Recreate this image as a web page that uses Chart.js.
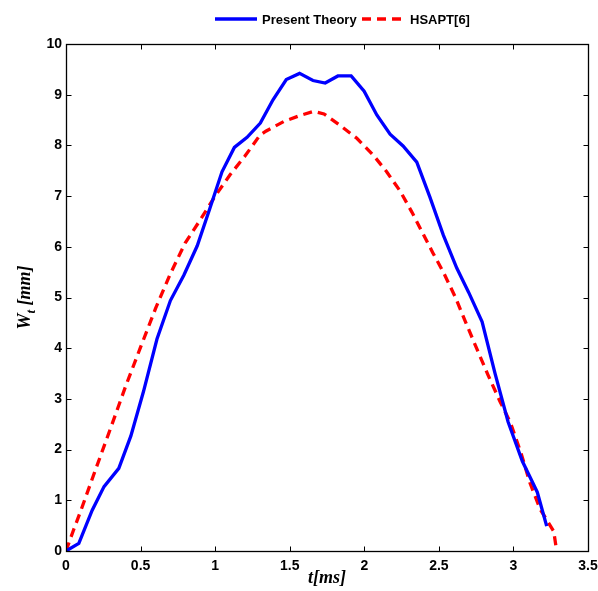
<!DOCTYPE html>
<html lang="en">
  <head>
    <meta charset="UTF-8" />
    <meta name="viewport" content="width=device-width, initial-scale=1.0" />
    <title>Wt vs t | Present Theory vs HSAPT</title>
    <script src="https://cdn.jsdelivr.net/npm/chart.js"></script>
    <style>
      body {
        margin: 0;
        padding: 0;
        background: #fff;
      }
      #wrap {
        width: 598px;
        height: 591px;
      }
    </style>
  </head>
  <body>
    <div id="wrap">
      <canvas id="wtChart" width="598" height="591"></canvas>
    </div>

    <script>
      // series (t in ms, W_t in mm)
      const presentT = [
        0, 0.086, 0.175, 0.255, 0.354, 0.435, 0.52, 0.61, 0.7, 0.79, 0.88,
        0.965, 1.046, 1.129, 1.214, 1.303, 1.388, 1.477, 1.566, 1.656, 1.738,
        1.823, 1.912, 1.999, 2.084, 2.173, 2.26, 2.352, 2.44, 2.53, 2.62, 2.7,
        2.79, 2.877, 2.964, 3.06, 3.16, 3.223,
      ];
      const presentW = [
        0, 0.15, 0.8, 1.27, 1.63, 2.27, 3.15, 4.18, 4.94, 5.44, 6.02, 6.76,
        7.48, 7.96, 8.16, 8.44, 8.9, 9.3, 9.42, 9.28, 9.23, 9.37, 9.37, 9.07,
        8.6, 8.22, 7.99, 7.67, 6.98, 6.23, 5.58, 5.1, 4.52, 3.5, 2.55, 1.77,
        1.16, 0.49,
      ];
      const hsaptT = [
        0, 0.05, 0.1, 0.2, 0.3, 0.4, 0.5, 0.6, 0.7, 0.8, 0.9, 1.0, 1.1, 1.2,
        1.3, 1.34, 1.46, 1.57, 1.66, 1.73, 1.84, 1.95, 2.06, 2.15, 2.24, 2.32,
        2.39, 2.46, 2.53, 2.61, 2.68, 2.76, 2.83, 2.91, 2.98, 3.05, 3.11, 3.18,
        3.27, 3.29,
      ];
      const hsaptW = [
        0, 0.41, 0.8, 1.62, 2.43, 3.25, 4.02, 4.78, 5.47, 6.08, 6.53, 7.0,
        7.42, 7.79, 8.2, 8.28, 8.47, 8.59, 8.67, 8.62, 8.39, 8.14, 7.81, 7.48,
        7.1, 6.68, 6.28, 5.88, 5.5, 5.01, 4.51, 3.95, 3.47, 2.95, 2.53, 1.94,
        1.35, 0.82, 0.39, 0,
      ];
      const seriesLabels = ["Present Theory", "HSAPT[6]"];
      const xTicks = [0, 0.5, 1, 1.5, 2, 2.5, 3, 3.5];
      const yTicks = [0, 1, 2, 3, 4, 5, 6, 7, 8, 9, 10];

      const toPoints = (xs, ys) => xs.map((x, i) => ({ x: x, y: ys[i] }));

      // MATLAB style box with inward ticks on all four sides
      const framePlugin = {
        id: "frame",
        afterDraw(chart) {
          const { ctx, chartArea: a, scales } = chart;
          const L = Math.round(a.left) + 0.5;
          const R = Math.round(a.right) + 0.5;
          const T = Math.round(a.top) + 0.5;
          const B = Math.round(a.bottom) + 0.5;
          ctx.save();
          ctx.strokeStyle = "#000";
          ctx.lineWidth = 1.3;
          ctx.strokeRect(L, T, R - L, B - T);
          ctx.beginPath();
          xTicks.forEach((v) => {
            const px = Math.round(scales.x.getPixelForValue(v)) + 0.5;
            ctx.moveTo(px, B);
            ctx.lineTo(px, B - 5);
            ctx.moveTo(px, T);
            ctx.lineTo(px, T + 5);
          });
          yTicks.forEach((v) => {
            const py = Math.round(scales.y.getPixelForValue(v)) + 0.5;
            ctx.moveTo(L, py);
            ctx.lineTo(L + 5, py);
            ctx.moveTo(R, py);
            ctx.lineTo(R - 5, py);
          });
          ctx.lineWidth = 1;
          ctx.stroke();
          ctx.restore();
        },
      };

      // y title with subscript t
      const yTitlePlugin = {
        id: "yTitle",
        afterDraw(chart) {
          const { ctx, chartArea: a } = chart;
          const big = "italic bold 18px 'Liberation Serif', 'Times New Roman', serif";
          const small = "italic bold 13px 'Liberation Serif', 'Times New Roman', serif";
          ctx.save();
          ctx.fillStyle = "#000";
          ctx.textBaseline = "alphabetic";
          ctx.font = big;
          const wW = ctx.measureText("W").width;
          const wRest = ctx.measureText(" [mm]").width;
          ctx.font = small;
          const wT = ctx.measureText("t").width;
          const total = wW + wT + wRest;
          ctx.translate(30, (a.top + a.bottom) / 2);
          ctx.rotate(-Math.PI / 2);
          let x = -total / 2;
          ctx.font = big;
          ctx.fillText("W", x, 0);
          x += wW;
          ctx.font = small;
          ctx.fillText("t", x, 5);
          x += wT;
          ctx.font = big;
          ctx.fillText(" [mm]", x, 0);
          ctx.restore();
        },
      };

      // legend row above the axes
      const legendPlugin = {
        id: "topLegend",
        afterDraw(chart) {
          const { ctx } = chart;
          const y = 19;
          const spots = [
            { x0: 215, x1: 257, tx: 262 },
            { x0: 362, x1: 405, tx: 410 },
          ];
          ctx.save();
          ctx.font = "bold 13px 'Liberation Sans', Arial, sans-serif";
          ctx.textBaseline = "middle";
          chart.data.datasets.forEach((ds, i) => {
            const s = spots[i];
            ctx.beginPath();
            ctx.strokeStyle = ds.borderColor;
            ctx.lineWidth = ds.borderWidth;
            ctx.setLineDash(ds.borderDash || []);
            ctx.moveTo(s.x0, y);
            ctx.lineTo(s.x1, y);
            ctx.stroke();
            ctx.setLineDash([]);
            ctx.fillStyle = "#000";
            ctx.fillText(ds.label, s.tx, y + 1);
          });
          ctx.restore();
        },
      };

      const tickFont = {
        family: "'Liberation Sans', Arial, sans-serif",
        size: 14,
        weight: "bold",
      };

      new Chart(document.getElementById("wtChart").getContext("2d"), {
        type: "line",
        data: {
          datasets: [
            {
              label: seriesLabels[0],
              data: toPoints(presentT, presentW),
              borderColor: "#0000ff",
              borderWidth: 3.3,
              pointRadius: 0,
              fill: false,
              tension: 0,
            },
            {
              label: seriesLabels[1],
              data: toPoints(hsaptT, hsaptW),
              borderColor: "#ff0000",
              borderWidth: 3.3,
              borderDash: [9, 6],
              pointRadius: 0,
              fill: false,
              tension: 0,
            },
          ],
        },
        options: {
          responsive: false,
          animation: false,
          devicePixelRatio: 1,
          layout: {
            padding: { top: 44, right: 10, bottom: 0, left: 0 },
          },
          plugins: {
            legend: { display: false },
            tooltip: { enabled: false },
          },
          scales: {
            x: {
              type: "linear",
              min: 0,
              max: 3.5,
              afterBuildTicks: (s) => {
                s.ticks = xTicks.map((v) => ({ value: v }));
              },
              afterFit: (s) => {
                s.height = 40;
                s.paddingLeft = 0;
                s.paddingRight = 0;
              },
              grid: { display: false, drawTicks: false },
              border: { display: false },
              ticks: {
                color: "#000",
                font: tickFont,
                padding: 7,
                maxRotation: 0,
                autoSkip: false,
                callback: (v) => String(v),
              },
              title: {
                display: true,
                text: "t[ms]",
                color: "#000",
                font: {
                  family: "'Liberation Serif', 'Times New Roman', serif",
                  size: 18,
                  style: "italic",
                  weight: "bold",
                },
                padding: { top: 0, bottom: 2 },
              },
            },
            y: {
              type: "linear",
              min: 0,
              max: 10,
              afterBuildTicks: (s) => {
                s.ticks = yTicks.map((v) => ({ value: v }));
              },
              afterFit: (s) => {
                s.width = 66;
                s.paddingTop = 0;
                s.paddingBottom = 0;
              },
              grid: { display: false, drawTicks: false },
              border: { display: false },
              ticks: {
                color: "#000",
                font: tickFont,
                padding: 4,
                autoSkip: false,
                callback: (v) => String(v),
              },
            },
          },
        },
        plugins: [framePlugin, yTitlePlugin, legendPlugin],
      });
    </script>
  </body>
</html>
